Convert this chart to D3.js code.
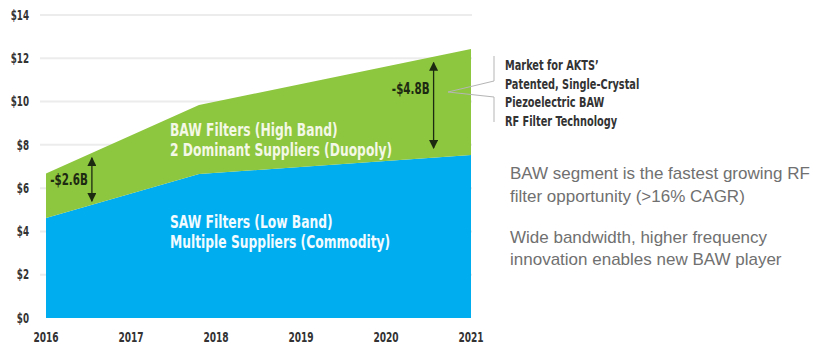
<!DOCTYPE html>
<html><head><meta charset="utf-8">
<script src="https://cdn.jsdelivr.net/npm/d3@7"></script>
<style>
body{margin:0;background:#fff;}
svg{display:block;}
</style></head>
<body><svg id="c" width="816" height="355"></svg>
<script>
// ---- data ----
const years = [2016, 2017.8, 2021];
const sawValues = [4.62, 6.65, 7.53];      // SAW (low band), bottom layer
const bawValues = [2.06, 3.19, 4.9];       // BAW (high band), stacked on top
const yTicks = [0, 2, 4, 6, 8, 10, 12, 14];
const xTickLabels = [2016, 2017, 2018, 2019, 2020, 2021];
const arrowLabels = ["-$2.6B", "-$4.8B"];
const arrowX = [2016.54, 2020.56];
const arrowTop = [7.4, 11.8];
const arrowBottom = [5.4, 7.85];
const bawLabel = ["BAW Filters (High Band)", "2 Dominant Suppliers (Duopoly)"];
const sawLabel = ["SAW Filters (Low Band)", "Multiple Suppliers (Commodity)"];
const calloutLines = ["Market for AKTS\u2019", "Patented, Single-Crystal", "Piezoelectric BAW", "RF Filter Technology"];
const noteLines1 = ["BAW segment is the fastest growing RF", "filter opportunity (>16% CAGR)"];
const noteLines2 = ["Wide bandwidth, higher frequency", "innovation enables new BAW player"];

const COND = "'DejaVu Sans Condensed','DejaVu Sans',sans-serif";
const svg = d3.select("#c");
const x = d3.scaleLinear().domain([2016, 2021]).range([46, 471]);
const y = d3.scaleLinear().domain([0, 14]).range([318, 15]);

// condensed text helper: places text at (px,py) and squeezes horizontally
function ctext(parent, data, px, py, opts) {
  return parent.append("g").selectAll("text").data(data).join("text")
    .attr("transform", (d, i) => `translate(${px(d, i)},${py(d, i)}) scale(${opts.k},1)`)
    .attr("dy", "0.35em")
    .attr("text-anchor", opts.anchor || "start")
    .style("font-family", COND).style("font-weight", "bold")
    .style("font-size", opts.size + "px")
    .attr("fill", opts.fill)
    .text(opts.text || (d => d));
}

// grid
svg.append("g").selectAll("line").data(yTicks.filter(d => d > 0)).join("line")
  .attr("x1", 40).attr("x2", 472)
  .attr("y1", d => y(d)).attr("y2", d => y(d))
  .attr("stroke", "#ececec").attr("stroke-width", 2);

// stacked areas
const rows = years.map((yr, i) => ({year: yr, saw: sawValues[i], baw: bawValues[i]}));
const stack = d3.stack().keys(["saw", "baw"])(rows);
const area = d3.area().x(d => x(d.data.year)).y0(d => y(d[0])).y1(d => y(d[1]));
const colors = {saw: "#00aeef", baw: "#8dc63f"};
svg.append("g").selectAll("path").data(stack).join("path")
  .attr("d", area).attr("fill", d => colors[d.key]);

// y axis labels
ctext(svg, yTicks, () => 29, d => y(d), {k: 0.72, size: 13.5, fill: "#333", anchor: "end", text: d => "$" + d});
// x axis labels
ctext(svg, xTickLabels, d => x(d), () => 337, {k: 0.72, size: 14, fill: "#333", anchor: "middle"});

// arrow markers
const defs = svg.append("defs");
defs.append("marker").attr("id", "ah").attr("viewBox", "0 0 10 10")
  .attr("refX", 9).attr("refY", 5).attr("markerWidth", 7).attr("markerHeight", 7)
  .attr("orient", "auto-start-reverse")
  .append("path").attr("d", "M0,0 L10,5 L0,10 Z").attr("fill", "#1d2a12");

arrowX.forEach((ax, i) => {
  svg.append("line")
    .attr("x1", x(ax)).attr("x2", x(ax))
    .attr("y1", y(arrowTop[i])).attr("y2", y(arrowBottom[i]))
    .attr("stroke", "#1d2a12").attr("stroke-width", 1.3)
    .attr("marker-start", "url(#ah)").attr("marker-end", "url(#ah)");
  ctext(svg, [arrowLabels[i]], () => x(ax) - 4,
        () => y((arrowTop[i] + arrowBottom[i]) / 2) + (i === 0 ? 0 : -17),
        {k: 0.72, size: 16, fill: "#1d2a12", anchor: "end"});
});

// area labels
ctext(svg, bawLabel, () => 170, (d, i) => 130 + i * 20, {k: 0.76, size: 18, fill: "#f4f8e6"});
ctext(svg, sawLabel, () => 170, (d, i) => 222 + i * 20, {k: 0.76, size: 18, fill: "#f2fbff"});

// callout bracket
svg.append("path")
  .attr("d", "M448,92 L494,81 L494,56 M448,92 L494,97 L494,122")
  .attr("fill", "none").attr("stroke", "#b5b5b5").attr("stroke-width", 1);
ctext(svg, calloutLines, () => 505, (d, i) => 65 + i * 18.5, {k: 0.75, size: 14.5, fill: "#333"});

// notes
const NOTE = "'Liberation Sans',Arial,Helvetica,sans-serif";
function block(lines, x0, y0, lh) {
  svg.append("g").selectAll("text").data(lines).join("text")
    .attr("x", x0).attr("y", (d, i) => y0 + i * lh).attr("dy", "0.35em")
    .style("font-family", NOTE).style("font-size", "17px")
    .attr("fill", "#707070").text(d => d);
}
block(noteLines1, 510, 173, 23);
block(noteLines2, 510, 237, 22.5);
</script>
</body></html>
